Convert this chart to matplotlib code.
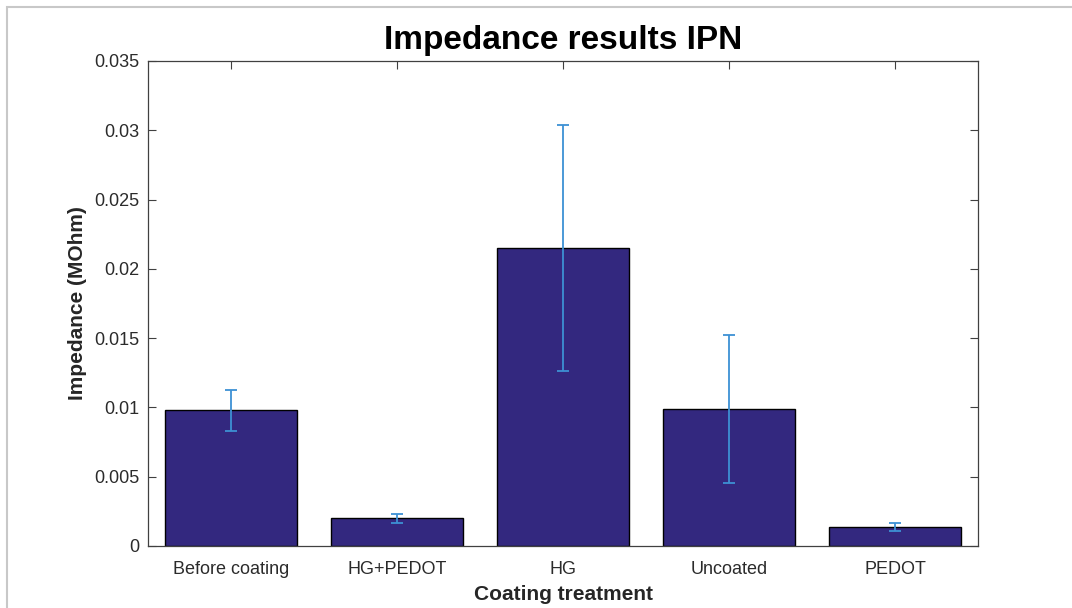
import matplotlib
matplotlib.use("Agg")
import matplotlib.pyplot as plt
from matplotlib.patches import Rectangle

plt.rcParams['font.family'] = ['Liberation Sans', 'DejaVu Sans']

categories = ["Before coating", "HG+PEDOT", "HG", "Uncoated", "PEDOT"]
impedance = [0.0098, 0.0020, 0.0215, 0.0099, 0.00138]
errors = [0.00148, 0.00033, 0.0089, 0.00535, 0.0003]
yticks = [0, 0.005, 0.01, 0.015, 0.02, 0.025, 0.03, 0.035]
ytick_labels = ["0", "0.005", "0.01", "0.015", "0.02", "0.025", "0.03", "0.035"]

W, H = 1072, 608
fig = plt.figure(figsize=(W / 100, H / 100), dpi=100)
fig.patch.set_facecolor("white")

# thin grey frame around the figure area
fig.add_artist(Rectangle((7 / W, -0.05), 1.2, 1 - 7 / H + 0.05,
                         transform=fig.transFigure, fill=False,
                         edgecolor="#c8c8c8", linewidth=1.5))

ax = fig.add_axes([148 / W, 1 - 546 / H, (978 - 148) / W, (546 - 61) / H])

x = list(range(1, len(categories) + 1))
ax.bar(x, impedance, width=0.8, color="#33287f", edgecolor="black",
       linewidth=1.0, zorder=2)
ax.errorbar(x, impedance, yerr=errors, fmt="none", ecolor="#3d91d4",
            elinewidth=1.3, capsize=4.5, capthick=1.3, zorder=3)

ax.set_xlim(0.5, len(categories) + 0.5)
ax.set_ylim(0, 0.035)
ax.set_xticks(x)
ax.set_xticklabels(categories)
ax.set_yticks(yticks)
ax.set_yticklabels(ytick_labels)

ax.tick_params(direction="in", top=True, right=True, length=6, width=0.8,
               colors="#404040", labelcolor="#2b2b2b", labelsize=13)
ax.tick_params(axis="x", pad=11)
ax.tick_params(axis="y", pad=6)
for s in ax.spines.values():
    s.set_color("#404040")
    s.set_linewidth(0.9)

ax.set_title("Impedance results IPN", fontsize=24, fontweight="bold", pad=8.5)
ax.set_xlabel("Coating treatment", fontsize=15, fontweight="bold",
              color="#262626", labelpad=5)
ax.set_ylabel("Impedance (MOhm)", fontsize=15, fontweight="bold",
              color="#262626", labelpad=5)

fig.savefig("out.png", dpi=100, facecolor="white")
